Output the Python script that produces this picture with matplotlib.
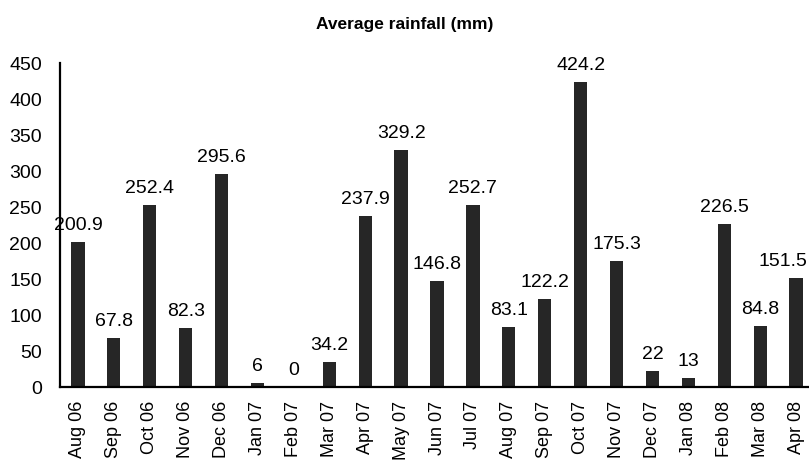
import numpy as np
import matplotlib.pyplot as plt

# Monthly data
months = ['Aug 06', 'Sep 06', 'Oct 06', 'Nov 06', 'Dec 06', 'Jan 07', 'Feb 07', 'Mar 07',
          'Apr 07', 'May 07', 'Jun 07', 'Jul 07', 'Aug 07', 'Sep 07', 'Oct 07', 'Nov 07',
          'Dec 07', 'Jan 08', 'Feb 08', 'Mar 08', 'Apr 08']
rainfall = [200.9, 67.8, 252.4, 82.3, 295.6, 6, 0, 34.2, 237.9, 329.2, 146.8, 252.7,
            83.1, 122.2, 424.2, 175.3, 22, 13, 226.5, 84.8, 151.5]
value_labels = ['200.9', '67.8', '252.4', '82.3', '295.6', '6', '0', '34.2', '237.9', '329.2',
                '146.8', '252.7', '83.1', '122.2', '424.2', '175.3', '22', '13', '226.5',
                '84.8', '151.5']

plt.rcParams['font.family'] = ['Liberation Sans', 'DejaVu Sans']

fig = plt.figure(figsize=(8.09, 4.62), dpi=100)
# axes runs a little past the right edge, like the original
ax = fig.add_axes([60 / 809, (462 - 387) / 462, (814 - 60) / 809, (387 - 63) / 462])

x = np.arange(len(months))
ax.bar(x, rainfall, width=0.37, color='#262626')

texts = []
for xi, v, lab in zip(x, rainfall, value_labels):
    t = ax.annotate(lab, (xi, v), xytext=(0, 8.6), textcoords='offset points',
                    ha='center', va='baseline', fontsize=14)
    texts.append(t)

ax.set_xlim(-0.5, len(months) - 0.5)
ax.set_ylim(0, 450)
ax.set_yticks(np.arange(0, 451, 50))
ax.set_xticks(x)
ax.set_xticklabels(months, rotation=90, fontsize=13)
ax.tick_params(axis='y', labelsize=14, length=0, pad=13)
ax.tick_params(axis='x', length=0, pad=10)

ax.spines['top'].set_visible(False)
ax.spines['right'].set_visible(False)
ax.spines['left'].set_linewidth(1.6)
ax.spines['bottom'].set_linewidth(1.6)

fig.text(0.5, 1 - 25 / 462, 'Average rainfall (mm)', ha='center', va='center',
         fontsize=12.5, fontweight='bold')

# pull labels that run over the right edge back inside
fig.canvas.draw()
r = fig.canvas.get_renderer()
for t in texts:
    bb = t.get_window_extent(r)
    if bb.x1 > 807:
        t.set_position((-(bb.x1 - 807) * 72 / 100, 8.6))

plt.savefig('out.png', dpi=100)
